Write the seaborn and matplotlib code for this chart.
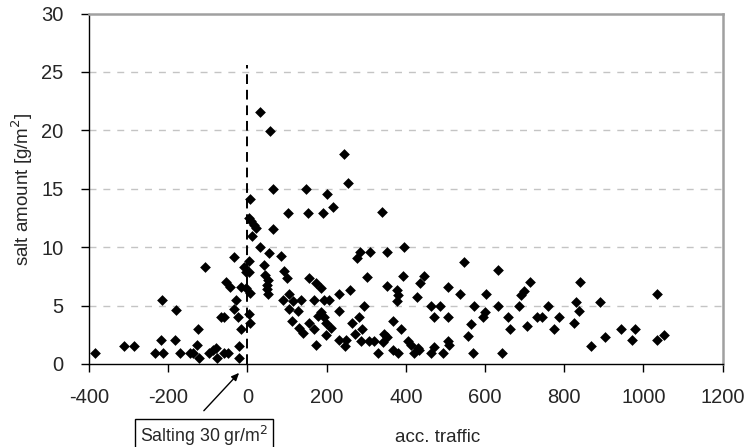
import matplotlib
matplotlib.use("Agg")
import matplotlib.pyplot as plt
import seaborn as sns
import pandas as pd

# ---- data ----
acc_traffic = [
    -385, -311, -286, -234, -219, -216, -212, -183, -181, -170, -145, -138,
    -127, -126, -123, -106, -97, -88, -80, -77, -67, -60, -59, -54, -50,
    -43, -33, -33, -29, -25, -21, -21, -16, -15, -8, -4, -3,
    3, 5, 6, 3, 6, 7, 3, 10, 16, 22, 11,
    32, 57, 245, 255, 64, 149, 201, 215, 103, 152, 191, 64, 32, 54, 85, 42,
    45, 52, 50, 49, 51, 93, 100, 156, 173, 186, 232, 260, 278, 90, 106, 114,
    135, 169, 193, 207, 106, 127, 186, 194, 232, 112, 156, 179, 198, 211,
    131, 140, 169, 198, 173, 232, 249, 247, 264, 272,
    339, 285, 310, 353, 395, 302, 353, 378, 380, 378, 392, 445, 437, 428,
    295, 283, 289, 287, 308, 319, 346, 353, 342, 367, 388, 331, 367, 380,
    406, 413, 421, 430, 434, 464, 471, 493, 507, 510, 464, 487, 471, 507,
    507, 536, 548, 572, 565, 557, 569, 603, 594, 600, 632, 634, 644,
    658, 662, 687, 690, 698, 714, 706, 732, 744, 760, 774, 788, 830, 837,
    826, 840, 890, 868, 902, 944, 978, 971,
    1035, 1035, 1053,
]
salt_amount = [
    0.9, 1.55, 1.55, 0.92, 2.06, 5.46, 0.92, 2.06, 4.66, 0.92, 0.92, 0.92,
    1.66, 2.98, 0.5, 8.34, 0.92, 1.2, 1.35, 0.5, 4.03, 4.03, 0.92, 7.06, 0.92,
    6.63, 9.14, 4.69, 5.49, 4.0, 1.55, 0.5, 6.57, 2.98, 8.3, 6.5, 7.9,
    8.8, 7.9, 6.06, 4.3, 3.5, 14.1, 12.5, 12.2, 11.9, 11.6, 10.97,
    21.56, 19.98, 17.99, 15.48, 14.99, 14.99, 14.54, 13.48, 12.96, 12.96, 12.96, 11.57, 10.05, 9.54, 9.28, 8.5,
    7.63, 7.2, 6.77, 6.4, 5.95, 7.97, 7.35, 7.35, 6.97, 6.49, 6.0, 6.3, 9.06, 5.49, 6.0, 5.4,
    5.49, 5.49, 5.49, 5.49, 4.69, 4.55, 4.49, 4.06, 4.55, 3.72, 3.49, 4.12, 3.54, 3.06,
    3.06, 2.69, 2.98, 2.49, 1.64, 2.06, 2.06, 1.55, 3.55, 2.6,
    13.0, 9.62, 9.57, 9.57, 10.0, 7.43, 6.69, 6.34, 5.92, 5.43, 7.49, 7.54, 6.97, 5.72,
    5.0, 4.06, 2.98, 2.0, 2.0, 2.0, 2.58, 2.35, 1.92, 3.69, 2.98, 0.98, 1.21, 0.98,
    2.0, 1.64, 0.98, 1.35, 1.21, 0.98, 1.49, 0.98, 2.0, 1.64, 5.0, 5.0, 4.06, 4.06,
    6.57, 5.97, 8.71, 5.0, 3.43, 2.43, 0.98, 5.97, 4.06, 4.49, 8.06, 5.0, 0.95,
    4.0, 2.98, 5.0, 5.92, 6.28, 7.0, 3.29, 4.0, 4.0, 5.0, 2.98, 4.0, 5.34, 4.55,
    3.49, 7.0, 5.34, 1.55, 2.35, 2.98, 2.98, 2.06,
    5.97, 2.06, 2.49,
]
x_ticks = [-400, -200, 0, 200, 400, 600, 800, 1000, 1200]
y_ticks = [0, 5, 10, 15, 20, 25, 30]
salting_x = 0
salting_line_top = 25.6
annotation_text = "Salting 30 gr/m$^2$"
x_label = "acc. traffic"
y_label = "salt amount [g/m$^2$]"

df = pd.DataFrame({"acc_traffic": acc_traffic, "salt_amount": salt_amount})

sns.set_style("white")
plt.rcParams["font.family"] = ["Liberation Sans", "DejaVu Sans"]
plt.rcParams["axes.unicode_minus"] = False

fig = plt.figure(figsize=(7.48, 4.47), dpi=100)
ax = fig.add_axes([0.119, 0.1857, 0.847, 0.784])

# grid lines
for yv in y_ticks[1:-1]:
    ax.axhline(yv, color="#c4c4c4", linestyle=(0, (5, 5)), linewidth=1.0, zorder=0)

sns.scatterplot(data=df, x="acc_traffic", y="salt_amount", marker="D",
                color="black", s=30, linewidth=0, ax=ax, zorder=3, legend=False)

ax.plot([salting_x, salting_x], [0, salting_line_top], color="black",
        linestyle=(0, (5, 3)), linewidth=1.4, zorder=2)

ax.set_xlim(x_ticks[0], x_ticks[-1])
ax.set_ylim(y_ticks[0], y_ticks[-1])
ax.set_xticks(x_ticks)
ax.set_yticks(y_ticks)
ax.tick_params(axis="both", which="both", direction="out", length=5.5, width=1,
               color="black", labelsize=14.5, left=True, bottom=True)
ax.tick_params(axis="x", pad=12)
ax.tick_params(axis="y", pad=13)

for side in ["left", "bottom"]:
    ax.spines[side].set_color("black")
    ax.spines[side].set_linewidth(1.0)
for side in ["top", "right"]:
    ax.spines[side].set_color("#a0a0a0")
    ax.spines[side].set_linewidth(1.8)

ax.set_xlabel(x_label, fontsize=13.5)
ax.set_ylabel(y_label, fontsize=13.5)
ax.xaxis.set_label_coords(0.551, -0.185)
ax.yaxis.set_label_coords(-0.085, 0.5)

# annotation arrow and box
ax.annotate("", xy=(-21, -0.76), xytext=(-110, -4.0), xycoords="data",
            textcoords="data", annotation_clip=False,
            arrowprops=dict(arrowstyle="-|>,head_length=0.45,head_width=0.2",
                            color="black", lw=1.0, shrinkA=0, shrinkB=0))
fig.text(0.273, 0.025, annotation_text, ha="center", va="center", fontsize=12.8,
         bbox=dict(boxstyle="square,pad=0.28", facecolor="white",
                   edgecolor="black", linewidth=1.0))

fig.savefig("out.png", dpi=100)
